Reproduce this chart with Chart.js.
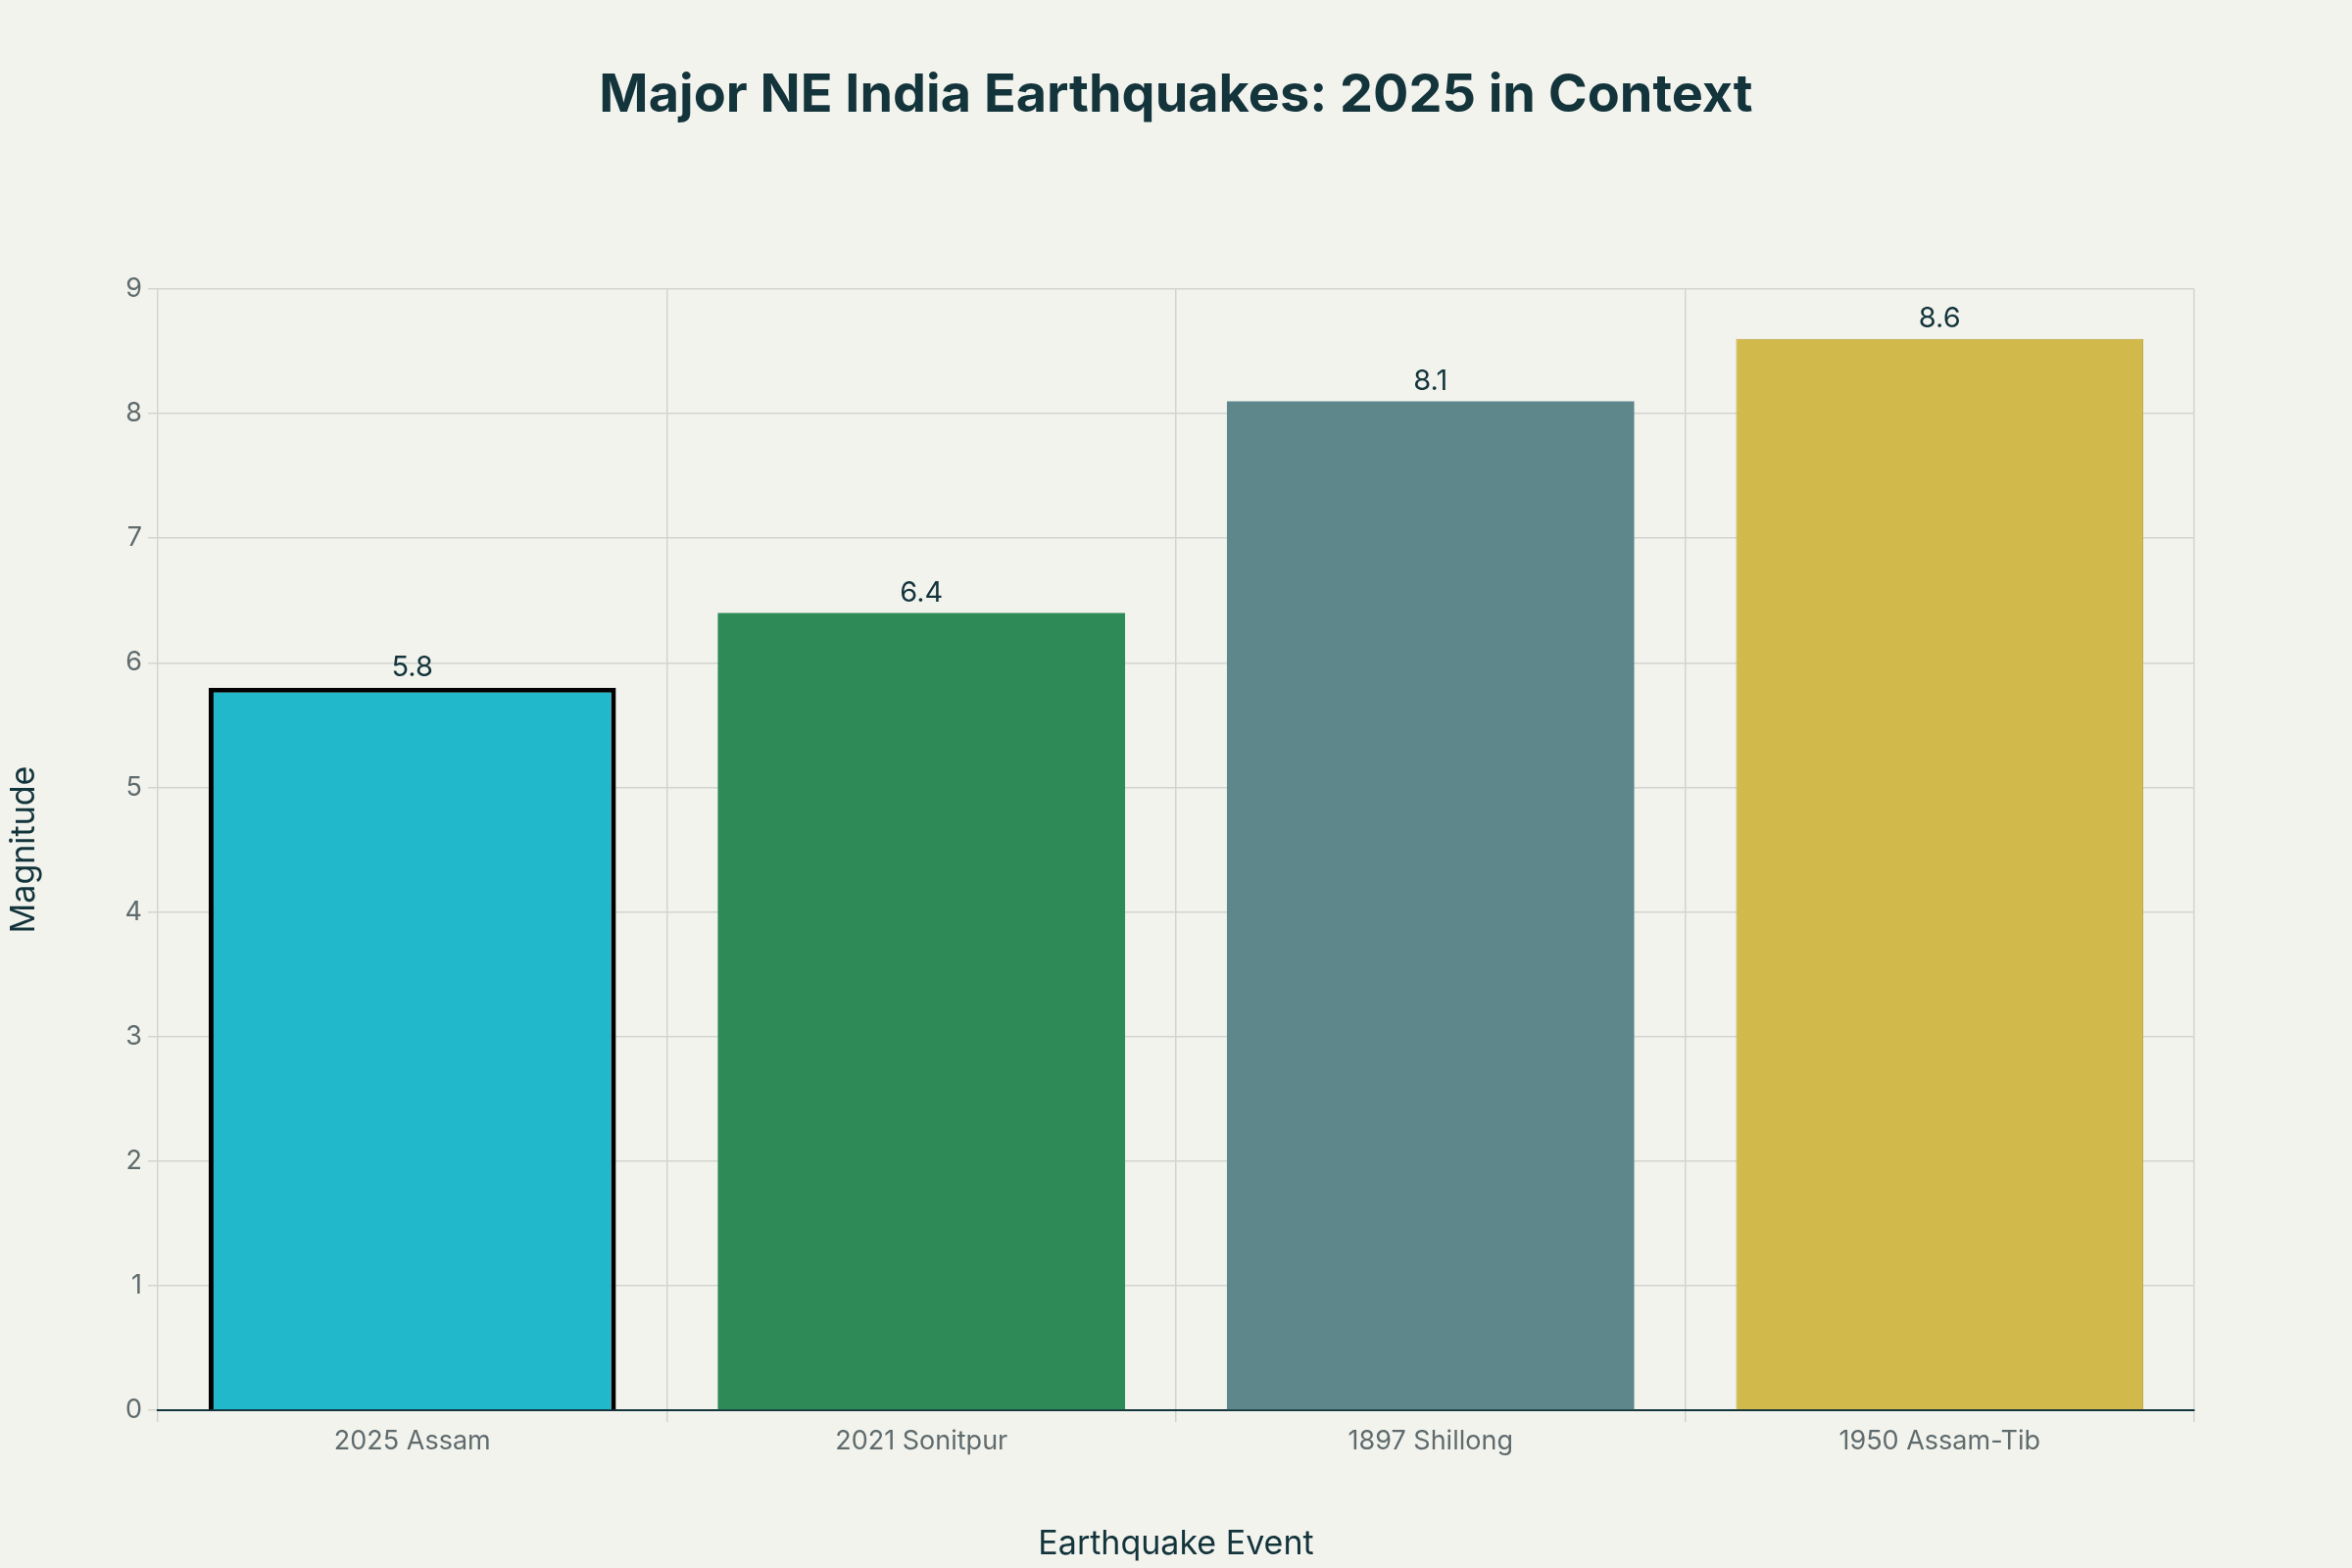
<!DOCTYPE html>
<html><head><meta charset="utf-8">
<script src="https://cdn.jsdelivr.net/npm/chart.js@4"></script>
<style>html,body{margin:0;padding:0;background:#f3f3ee}#w{width:2400px;height:1600px}</style>
</head><body><div id="w"><canvas id="c"></canvas></div>
<script>
const categories = ["2025 Assam","2021 Sonitpur","1897 Shillong","1950 Assam-Tib"];
const magnitudes = [5.8,6.4,8.1,8.6];
const barColors = ["#21b8cc","#2e8b57","#5e878c","#d2b94b"];
const borderColors = ["#000000","#2e8b57","#5e878c","#bfa843"];
const borderWidths = [5,0,0,1];
const yTicks = [0,1,2,3,4,5,6,7,8,9];
const FONT = "Inter, 'Noto Sans', sans-serif";

const deco = {
  id:'deco',
  beforeDraw(ch){const c=ch.ctx;c.save();c.fillStyle='#f3f3ee';c.fillRect(0,0,ch.width,ch.height);c.restore();},
  afterDatasetsDraw(ch){
    const c=ch.ctx;c.save();
    c.fillStyle='#13343b';c.font='bold 54px '+FONT;c.textAlign='center';c.textBaseline='middle';
    c.fillText('Major NE India Earthquakes: 2025 in Context',1200,98);
    c.font='29px '+FONT;c.textBaseline='bottom';
    ch.getDatasetMeta(0).data.forEach((b,i)=>{c.fillText(magnitudes[i].toFixed(1),b.x,b.y-6);});
    c.restore();
  }
};
new Chart(document.getElementById('c'),{
  type:'bar',
  data:{labels:categories,datasets:[{data:magnitudes,backgroundColor:barColors,borderColor:borderColors,borderWidth:borderWidths,categoryPercentage:0.8,barPercentage:1}]},
  options:{
    responsive:true,maintainAspectRatio:false,animation:false,
    layout:{padding:{top:295,right:161,left:0,bottom:0}},
    plugins:{legend:{display:false},tooltip:{enabled:false}},
    scales:{
      x:{grid:{color:'#d4d4cf',lineWidth:1.5,drawTicks:true,tickLength:12,tickColor:'#d4d4cf'},
         border:{color:'#13343b',width:2},
         ticks:{color:'#5f6b6d',font:{family:FONT,size:27},padding:4},
         title:{display:true,text:'Earthquake Event',color:'#13343b',font:{family:FONT,size:34},padding:{top:40}},
         afterFit(s){s.height=161;}},
      y:{min:0,max:9,afterBuildTicks(s){s.ticks=yTicks.map(v=>({value:v}));},
         grid:{color:'#d4d4cf',lineWidth:1.5,tickLength:10,tickColor:'#d4d4cf'},
         border:{display:false},
         ticks:{color:'#5f6b6d',font:{family:FONT,size:27},padding:6},
         title:{display:true,text:'Magnitude',color:'#13343b',font:{family:FONT,size:34},padding:{bottom:20}},
         afterFit(s){s.width=161;}}
    }
  },
  plugins:[deco]
});
</script></body></html>
